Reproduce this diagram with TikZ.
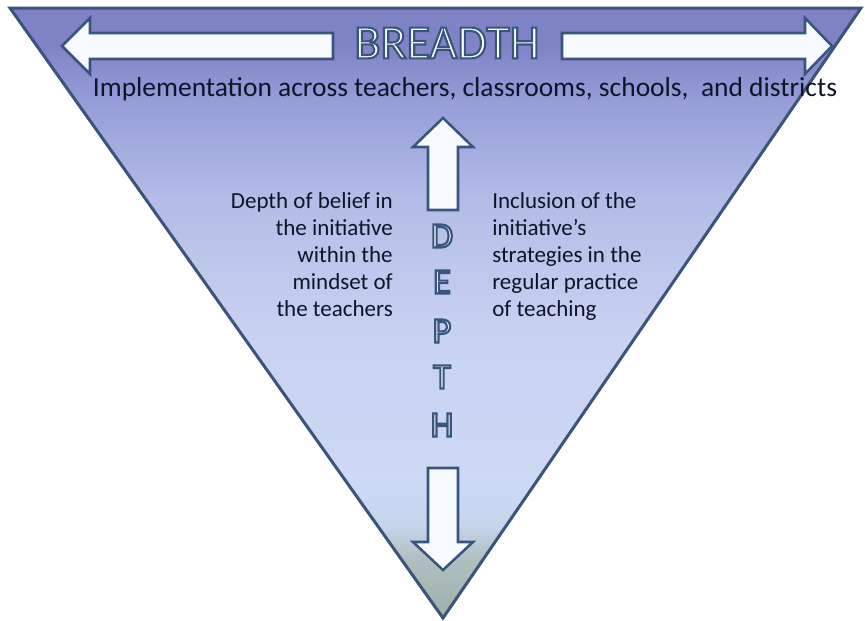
\documentclass[tikz,border=0pt]{standalone}
\usepackage{fontspec}
\setmainfont{Carlito}
\usepackage{xcolor}

\definecolor{triline}{RGB}{59,84,122}
\definecolor{arrline}{RGB}{55,85,125}
\definecolor{arrfill}{RGB}{247,251,255}
\definecolor{txtdark}{RGB}{15,20,40}
\definecolor{shtop}{RGB}{128,130,198}
\definecolor{shupper}{RGB}{150,156,215}
\definecolor{shmid}{RGB}{180,188,231}
\definecolor{shlow}{RGB}{200,209,241}
\definecolor{shlight}{RGB}{206,217,245}
\definecolor{shedge}{RGB}{200,212,236}
\definecolor{shgreen}{RGB}{176,190,192}
\definecolor{shbot}{RGB}{158,176,170}

\pgfdeclareverticalshading{depthfill}{100bp}{color(0bp)=(shbot); color(25bp)=(shbot); color(29.7bp)=(shgreen); color(32.6bp)=(shedge); color(36.3bp)=(shlight); color(48.6bp)=(shlow); color(59.3bp)=(shmid); color(67.5bp)=(shupper); color(72bp)=(shtop); color(100bp)=(shtop)}

% white letters with a dark rim (text render mode 2)
\newcommand{\rimtext}[1]{\special{pdf:literal direct 2 Tr 0.216 0.333 0.490 RG 1.6 w}#1\special{pdf:literal direct 0 Tr}}

\tikzset{
  bigarrow/.style={draw=arrline, fill=arrfill, line width=1.9pt, line join=miter},
  sidetext/.style={inner sep=0pt, text=txtdark, font=\fontsize{17.25}{20.25}\selectfont},
  outlined/.style={inner sep=0pt, text=white}
}

\begin{document}
\begin{tikzpicture}[x=0.75pt,y=0.75pt,yscale=-1,xscale=1]
        \fill[white] (0,0) rectangle (865,621);
        \path[use as bounding box] (0,0) rectangle (865,621);

        %Shape: Triangle [id:triangle]
        \shade [shading=depthfill] (10,8) -- (861,8) -- (443,618) -- cycle ;
        \draw [color=triline, line width=2.25pt, line join=miter] (10,8) -- (861,8) -- (443,618) -- cycle ;

        %Shape: Left Arrow [id:leftarrow]
        \draw [bigarrow] (62,46) -- (90,18) -- (90,33) -- (333,33) -- (333,59) -- (90,59) -- (90,74) -- cycle ;
        %Shape: Right Arrow [id:rightarrow]
        \draw [bigarrow] (562,33) -- (805,33) -- (805,18) -- (832,46) -- (805,74) -- (805,59) -- (562,59) -- cycle ;
        %Shape: Up Arrow [id:uparrow]
        \draw [bigarrow] (443,118) -- (473,147) -- (458,147) -- (458,210) -- (428,210) -- (428,147) -- (413,147) -- cycle ;
        %Shape: Down Arrow [id:downarrow]
        \draw [bigarrow] (428,468) -- (458,468) -- (458,542) -- (473,542) -- (443,570) -- (413,542) -- (428,542) -- cycle ;

        % Text Node
        \draw (447,43) node [outlined] [font=\fontsize{36}{38}\selectfont] (breadth) {\rimtext{BREADTH}};
        % Text Node
        \draw (465,96) node [anchor=base][inner sep=0pt] [text=txtdark, font=\fontsize{20.6}{23}\selectfont] (breadthnote) {Implementation across teachers, classrooms, schools, \ and districts};

        % Text Node
        \draw (393,316) node [anchor=base east][sidetext] [align=right] (beliefnote) {Depth of belief in\\the initiative\\within the\\mindset of\\the teachers};
        % Text Node
        \draw (492,316) node [anchor=base west][sidetext] [align=left] (practicenote) {Inclusion of the\\initiative’s\\strategies in the\\regular practice\\of teaching};

        % Text Node
        \draw (442,236) node [outlined] [font=\fontsize{27}{30}\selectfont] (depthD) {\rimtext{D}};
        % Text Node
        \draw (442,282) node [outlined] [font=\fontsize{27}{30}\selectfont] (depthE) {\rimtext{E}};
        % Text Node
        \draw (442,331) node [outlined] [font=\fontsize{27}{30}\selectfont] (depthP) {\rimtext{P}};
        % Text Node
        \draw (442,377) node [outlined] [font=\fontsize{27}{30}\selectfont] (depthT) {\rimtext{T}};
        % Text Node
        \draw (442,425) node [outlined] [font=\fontsize{27}{30}\selectfont] (depthH) {\rimtext{H}};

\end{tikzpicture}
\end{document}
